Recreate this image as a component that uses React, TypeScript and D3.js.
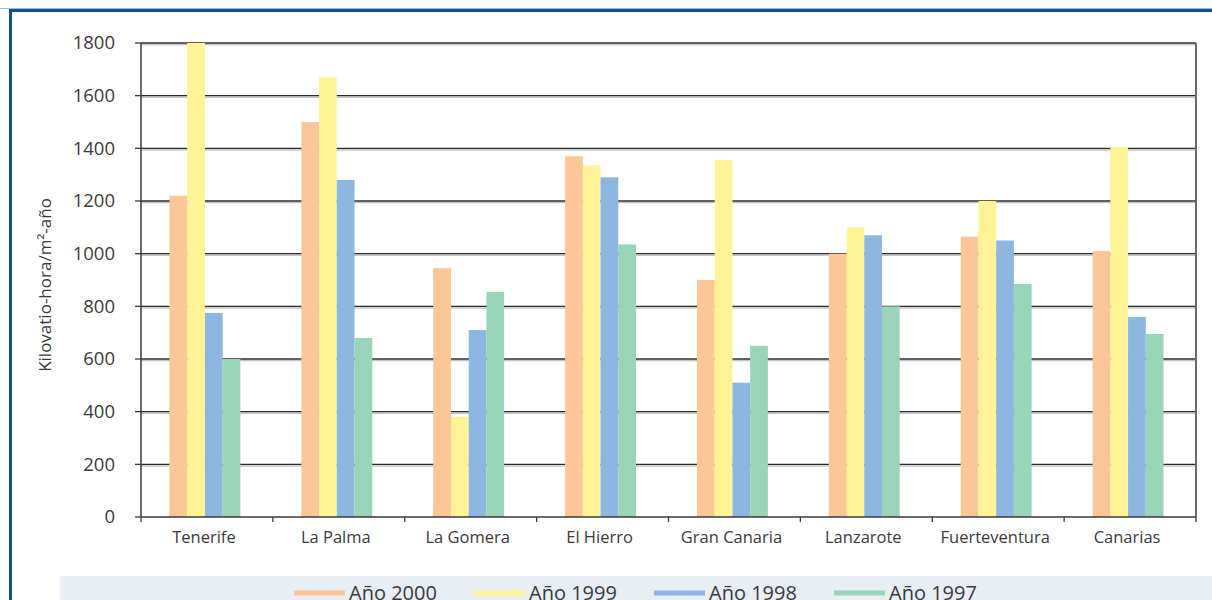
import { useMemo } from "react";
import * as d3 from "d3";

const categories = [
  "Tenerife",
  "La Palma",
  "La Gomera",
  "El Hierro",
  "Gran Canaria",
  "Lanzarote",
  "Fuerteventura",
  "Canarias",
];

const seriesNames = ["Año 2000", "Año 1999", "Año 1998", "Año 1997"];

const year2000 = [1220, 1500, 945, 1370, 900, 1000, 1065, 1010];
const year1999 = [1800, 1670, 380, 1335, 1355, 1100, 1200, 1405];
const year1998 = [775, 1280, 710, 1290, 510, 1070, 1050, 760];
const year1997 = [600, 680, 855, 1035, 650, 800, 885, 695];

const yTicks = [0, 200, 400, 600, 800, 1000, 1200, 1400, 1600, 1800];

const COLORS = ["#fcc798", "#fff396", "#8db6e0", "#9ad4b8"];

const WIDTH = 1212;
const HEIGHT = 600;
const margin = { top: 43, right: 15, bottom: 83, left: 141 };
const FONT = "'Open Sans', 'Noto Sans', sans-serif";
const TEXT = "#3a3a3a";

export default function App() {
  const values = [year2000, year1999, year1998, year1997];

  const plot = useMemo(
    () => ({
      x0: margin.left,
      x1: WIDTH - margin.right - 1,
      y0: HEIGHT - margin.bottom,
      y1: margin.top,
    }),
    [],
  );

  // X軸
  const xScale = useMemo(
    () =>
      d3.scaleBand<string>().domain(categories).range([plot.x0, plot.x1]).padding(0),
    [plot],
  );
  const subScale = useMemo(
    () =>
      d3
        .scaleBand<string>()
        .domain(seriesNames)
        .range([0, xScale.bandwidth()])
        .paddingInner(0)
        .paddingOuter(1.72),
    [xScale],
  );

  // Y軸
  const yScale = useMemo(
    () => d3.scaleLinear().domain([0, 1800]).range([plot.y0, plot.y1]),
    [plot],
  );

  const bars = categories.flatMap((cat, ci) =>
    seriesNames.map((s, si) => {
      const v = values[si][ci];
      return {
        key: `${cat}-${s}`,
        x: (xScale(cat) ?? 0) + (subScale(s) ?? 0) - 2,
        y: yScale(v),
        width: subScale.bandwidth(),
        height: yScale(0) - yScale(v),
        color: COLORS[si],
      };
    }),
  );

  const boundaries = [...categories.map((c) => xScale(c) ?? 0), plot.x1];

  const legendStep = 180;
  const legendX = 294;
  const legendY = 593;

  return (
    <svg
      width={WIDTH}
      height={HEIGHT}
      viewBox={`0 0 ${WIDTH} ${HEIGHT}`}
      style={{ position: "absolute", left: 0, top: 0, background: "#fff" }}
    >
      {/* frame */}
      <line x1={0} y1={8.5} x2={WIDTH} y2={8.5} stroke="#9fbbd6" strokeWidth={1} />
      <rect
        x={10.5}
        y={10.5}
        width={WIDTH + 20}
        height={HEIGHT + 20}
        fill="none"
        stroke="#13508b"
        strokeWidth={3}
      />

      {/* legend band */}
      <rect x={60} y={576} width={WIDTH} height={40} fill="#e9eef5" />

      {/* gridlines */}
      {yTicks
        .filter((t) => t > 0)
        .map((t) => (
          <g key={t}>
            <line
              x1={plot.x0}
              x2={plot.x1}
              y1={yScale(t) + 1.6}
              y2={yScale(t) + 1.6}
              stroke="#c4c4c4"
              strokeWidth={1.4}
            />
            <line
              x1={plot.x0}
              x2={plot.x1}
              y1={yScale(t)}
              y2={yScale(t)}
              stroke="#2b2b2b"
              strokeWidth={1.4}
            />
          </g>
        ))}

      {/* bars */}
      {bars.map((b) => (
        <rect key={b.key} x={b.x} y={b.y} width={b.width} height={b.height} fill={b.color} />
      ))}

      {/* axes */}
      <line x1={plot.x1} x2={plot.x1} y1={plot.y1} y2={plot.y0} stroke="#6a6a6a" strokeWidth={2} />
      <line x1={plot.x0} x2={plot.x0} y1={plot.y1} y2={plot.y0} stroke="#3a3a3a" strokeWidth={1.5} />
      <line x1={plot.x0} x2={plot.x1} y1={plot.y0} y2={plot.y0} stroke="#3a3a3a" strokeWidth={1.5} />

      {yTicks.map((t) => (
        <g key={t}>
          <line x1={plot.x0 - 6} x2={plot.x0} y1={yScale(t)} y2={yScale(t)} stroke="#3a3a3a" strokeWidth={1.3} />
          <text
            x={115}
            y={yScale(t)}
            dy="0.35em"
            textAnchor="end"
            fontFamily={FONT}
            fontSize={18.5}
            fill={TEXT}
          >
            {t}
          </text>
        </g>
      ))}

      {boundaries.map((bx, i) => (
        <line key={i} x1={bx} x2={bx} y1={plot.y0} y2={plot.y0 + 5} stroke="#3a3a3a" strokeWidth={1.3} />
      ))}
      {categories.map((c) => (
        <text
          key={c}
          x={(xScale(c) ?? 0) + xScale.bandwidth() / 2 - 3}
          y={543}
          textAnchor="middle"
          fontFamily={FONT}
          fontSize={16.5}
          fill={TEXT}
        >
          {c}
        </text>
      ))}

      <text
        transform={`translate(51, ${(plot.y0 + plot.y1) / 2 + 5}) rotate(-90)`}
        textAnchor="middle"
        fontFamily={FONT}
        fontSize={17}
        fill={TEXT}
      >
        Kilovatio-hora/m²-año
      </text>

      {/* legend */}
      {seriesNames.map((s, i) => (
        <g key={s} transform={`translate(${legendX + i * legendStep}, ${legendY})`}>
          <line x1={0} x2={51} y1={0} y2={0} stroke={COLORS[i]} strokeWidth={5} />
          <text x={55} y={6.5} fontFamily={FONT} fontSize={20} fill={TEXT}>
            {s}
          </text>
        </g>
      ))}
    </svg>
  );
}
